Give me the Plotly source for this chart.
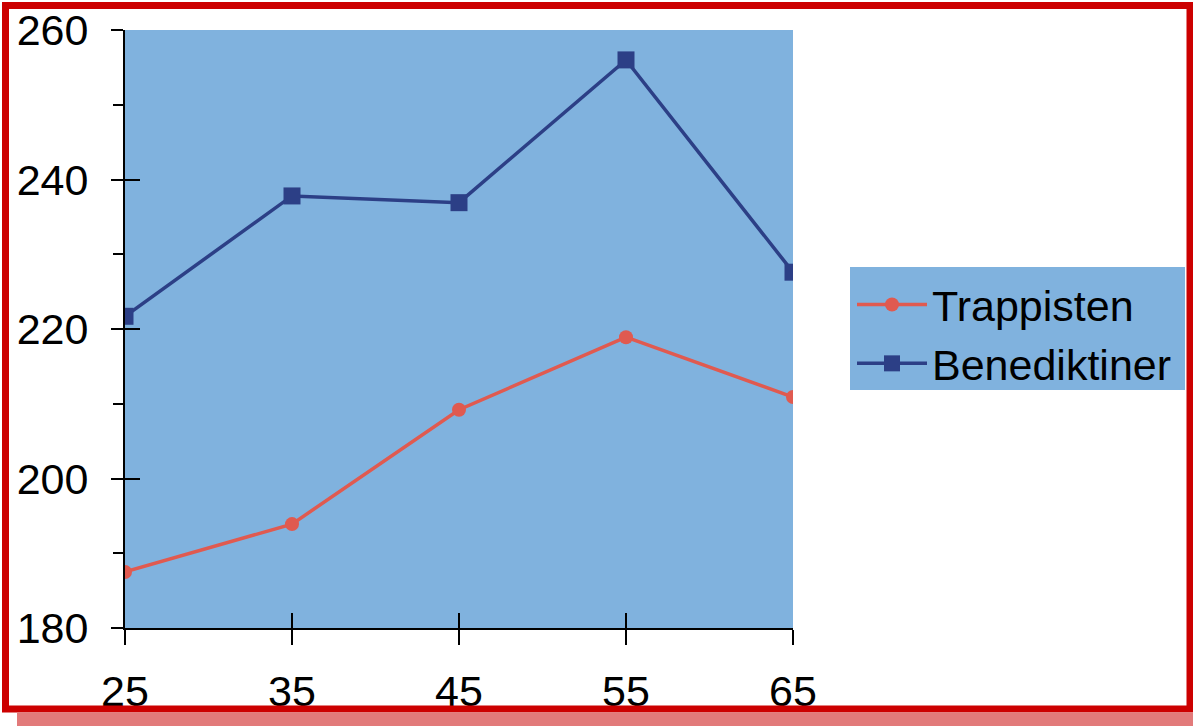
import plotly.graph_objects as go

# Age groups (years) and mean values per order
ages = [25, 35, 45, 55, 65]
trappisten = [187.5, 193.9, 209.2, 218.9, 210.9]
benediktiner = [221.7, 237.8, 236.9, 256.0, 227.6]

x_ticks = [25, 35, 45, 55, 65]
y_ticks = [180, 200, 220, 240, 260]

W, H = 1193, 726
FONT = "Liberation Sans, Arial, sans-serif"
PLOT_BG = "#80b2de"
RED_LINE = "#e05a50"
BLUE_LINE = "#2c3f86"

# Plot-area box in pixels
px_left, px_right, px_top, px_bottom = 125, 793, 30, 628
x_dom = [px_left / W, px_right / W]
y_dom = [1 - px_bottom / H, 1 - px_top / H]

fig = go.Figure()

fig.add_trace(go.Scatter(
    x=ages, y=trappisten, name="Trappisten", mode="lines+markers",
    line=dict(color=RED_LINE, width=3.5),
    marker=dict(symbol="circle", size=14, color=RED_LINE),
))
fig.add_trace(go.Scatter(
    x=ages, y=benediktiner, name="Benediktiner", mode="lines+markers",
    line=dict(color=BLUE_LINE, width=3.5),
    marker=dict(symbol="square", size=17, color=BLUE_LINE),
))
# empty trace that activates the overlay axes carrying the inner tick halves
fig.add_trace(go.Scatter(x=[], y=[], xaxis="x2", yaxis="y2", showlegend=False, hoverinfo="skip"))

axis_common = dict(showgrid=False, zeroline=False, tickcolor="black", tickwidth=2,
                   automargin=False,
                   tickfont=dict(family=FONT, size=43, color="black"))

fig.update_layout(
    template="none",
    width=W, height=H,
    margin=dict(l=0, r=0, t=0, b=0, pad=0),
    paper_bgcolor="white",
    plot_bgcolor=PLOT_BG,
    showlegend=True,
    xaxis=dict(domain=x_dom, range=[25, 65], tickvals=x_ticks, ticktext=[str(v) for v in x_ticks],
               ticks="outside", ticklen=15, showline=True, linecolor="black", linewidth=2,
               ticklabelstandoff=9, anchor="y", **axis_common),
    yaxis=dict(domain=y_dom, range=[180, 260], tickvals=y_ticks, ticktext=[str(v) for v in y_ticks],
               ticks="outside", ticklen=12, showline=True, linecolor="black", linewidth=2,
               ticklabelstandoff=14, anchor="x",
               minor=dict(tickvals=[190, 210, 230, 250], ticks="outside", ticklen=10,
                          tickcolor="black", tickwidth=2),
               **axis_common),
    xaxis2=dict(domain=x_dom, range=[25, 65], tickvals=x_ticks, overlaying="x", anchor="y2",
                side="bottom", ticks="inside", ticklen=15, tickcolor="black", tickwidth=2,
                automargin=False,
                showticklabels=False, showline=False, showgrid=False, zeroline=False),
    yaxis2=dict(domain=y_dom, range=[180, 260], tickvals=y_ticks, overlaying="y", anchor="x2",
                side="left", ticks="inside", ticklen=15, tickcolor="black", tickwidth=2,
                automargin=False,
                showticklabels=False, showline=False, showgrid=False, zeroline=False),
    legend=dict(
        x=852 / W, y=1 - 270 / H, xanchor="left", yanchor="top",
        bgcolor="rgba(0,0,0,0)", borderwidth=0,
        font=dict(family=FONT, size=43, color="black"),
        itemwidth=70,
    ),
    shapes=[
        # legend background panel
        dict(type="rect", xref="paper", yref="paper", layer="below",
             x0=850 / W, x1=1185 / W, y0=1 - 390 / H, y1=1 - 267 / H,
             fillcolor=PLOT_BG, line=dict(width=0)),
        # shadow strip under the frame
        dict(type="rect", xref="paper", yref="paper", layer="above",
             x0=17 / W, x1=1, y0=0, y1=1 - 713 / H,
             fillcolor="#e27a7a", line=dict(width=0)),
        # red outer frame
        dict(type="rect", xref="paper", yref="paper", layer="above",
             x0=5.5 / W, x1=1190 / W, y0=1 - 709 / H, y1=1 - 5.5 / H,
             line=dict(color="#cc0000", width=7), fillcolor="rgba(0,0,0,0)"),
    ],
)

fig.write_html("out.html")
